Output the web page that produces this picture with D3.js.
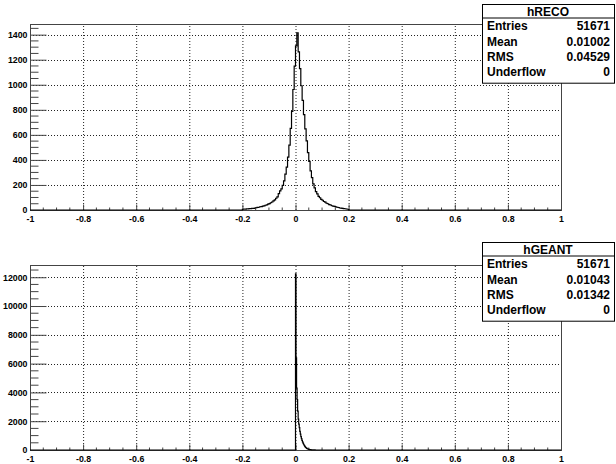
<!DOCTYPE html>
<html><head><meta charset="utf-8">
<script src="https://cdn.jsdelivr.net/npm/d3@7"></script>
<style>body{margin:0;background:#fff}svg{display:block}</style>
</head><body>
<script>
// ---- data ----
const xTickValues = [-1,-0.8,-0.6,-0.4,-0.2,0,0.2,0.4,0.6,0.8,1];
const xTickLabels = ["-1","-0.8","-0.6","-0.4","-0.2","0","0.2","0.4","0.6","0.8","1"];
const recoYTicks = [0,200,400,600,800,1000,1200,1400];
const geantYTicks = [0,2000,4000,6000,8000,10000,12000];

const recoStart = -0.2, recoWidth = 0.005;
const recoCounts = [
  6, 8, 7, 10, 9, 12, 11, 14, 13, 16,
  18, 21, 22, 26, 27, 31, 33, 38, 41, 47,
  51, 58, 64, 73, 81, 94, 105, 130, 152, 168,
  197, 232, 287, 342, 422, 518, 652, 788, 962, 1148,
  1310, 1415, 1262, 1128, 992, 876, 762, 648, 552, 458,
  388, 312, 258, 208, 176, 146, 128, 108, 98, 85,
  78, 68, 63, 54, 50, 43, 40, 34, 31, 29,
  25, 22, 20, 16, 15, 13, 11, 10, 8, 6
];
const geantStart = 0, geantWidth = 0.002;
const geantCounts = [
  12235, 6400, 4300, 3500, 2700, 2150, 1800, 1550, 1300, 1100,
  930, 790, 670, 570, 480, 400, 330, 270, 220, 175,
  140, 110, 88, 70, 55, 43, 34, 27, 21, 16,
  12, 9, 7, 5, 4, 3, 2, 1
];
const recoStatsTitle = "hRECO";
const recoStats = [["Entries","51671"],["Mean","0.01002"],["RMS","0.04529"],["Underflow","0"]];
const geantStatsTitle = "hGEANT";
const geantStats = [["Entries","51671"],["Mean","0.01043"],["RMS","0.01342"],["Underflow","0"]];

// ---- drawing ----
const W = 616, H = 464;
const svg = d3.select("body").append("svg").attr("width", W).attr("height", H);
svg.append("rect").attr("width", W).attr("height", H).attr("fill", "#fff");

const FONT = "'Liberation Sans', Arial, Helvetica, sans-serif";

function panel(opts) {
  const {top, bottom, yMax, yTicks, yMinorStep, start, width, counts, title, stats, boxTop} = opts;
  const left = 30, right = 561;
  const x = d3.scaleLinear().domain([-1, 1]).range([left, right]);
  const y = d3.scaleLinear().domain([0, yMax]).range([bottom, top]);
  const g = svg.append("g");

  // grid
  const grid = g.append("g").attr("stroke", "#222").attr("stroke-width", 1)
    .attr("stroke-dasharray", "1,2");
  xTickValues.filter(v => v > -1 && v < 1).forEach(v => {
    grid.append("line").attr("x1", x(v) + 0.5).attr("x2", x(v) + 0.5).attr("y1", bottom).attr("y2", top);
  });
  yTicks.filter(v => v > 0).forEach(v => {
    grid.append("line").attr("x1", left).attr("x2", right).attr("y1", Math.round(y(v)) + 0.5).attr("y2", Math.round(y(v)) + 0.5);
  });

  // frame
  g.append("rect").attr("x", left + 0.5).attr("y", top + 0.5).attr("width", right - left).attr("height", bottom - top)
    .attr("fill", "none").attr("stroke", "#444").attr("stroke-width", 1);

  // x axis ticks (inside, upward)
  const xAxis = d3.axisBottom(x).tickValues(xTickValues).tickSize(-6)
    .tickFormat((d, i) => xTickLabels[i]).tickPadding(3);
  const xa = g.append("g").attr("transform", `translate(0,${bottom + 0.5})`).call(xAxis);
  const xMinor = d3.range(-1, 1.0001, 0.05).filter(v => Math.abs(Math.round(v * 5) - v * 5) > 1e-6);
  xMinor.forEach(v => {
    xa.append("line").attr("x1", x(v)).attr("x2", x(v)).attr("y1", 0).attr("y2", -3).attr("stroke", "#444");
  });

  // y axis ticks (inside, rightward)
  const yAxis = d3.axisLeft(y).tickValues(yTicks).tickSize(-16).tickFormat(d3.format("d")).tickPadding(3);
  const ya = g.append("g").attr("transform", `translate(${left + 0.5},0)`).call(yAxis);
  const yMinor = d3.range(0, yMax, yMinorStep).filter(v => !yTicks.includes(v));
  yMinor.forEach(v => {
    ya.append("line").attr("x1", 0).attr("x2", 8).attr("y1", y(v)).attr("y2", y(v)).attr("stroke", "#444");
  });

  [xa, ya].forEach(a => {
    a.select(".domain").remove();
    a.selectAll(".tick line").attr("stroke", "#444");
    a.selectAll("text").attr("font-family", FONT).attr("font-weight", "bold")
      .attr("font-size", "8.8px").attr("fill", "#000");
  });
  xa.selectAll(".tick text").attr("dy", "0.95em");

  // histogram step line
  const pts = [[x(-1), y(0)]];
  pts.push([x(start), y(0)]);
  counts.forEach((c, i) => {
    const lo = start + i * width, hi = lo + width;
    pts.push([x(lo), y(c)]);
    pts.push([x(hi), y(c)]);
  });
  const last = start + counts.length * width;
  pts.push([x(last), y(0)]);
  pts.push([x(1), y(0)]);
  g.append("path").attr("d", d3.line()(pts)).attr("fill", "none")
    .attr("stroke", "#000").attr("stroke-width", 1.2);

  // stats box
  const bx = 482, bw = 132, bTop = boxTop, hdr = 13.5, rowH = 15.3;
  const bh = hdr + rowH * stats.length + 4;
  const sb = svg.append("g");
  sb.append("rect").attr("x", bx + 0.5).attr("y", bTop + 0.5).attr("width", bw).attr("height", bh)
    .attr("fill", "#fff").attr("stroke", "#000").attr("stroke-width", 1);
  sb.append("line").attr("x1", bx).attr("x2", bx + bw).attr("y1", bTop + hdr + 0.5).attr("y2", bTop + hdr + 0.5)
    .attr("stroke", "#000");
  sb.append("text").attr("x", bx + bw / 2).attr("y", bTop + hdr / 2 + 0.5).attr("dy", "0.36em")
    .attr("text-anchor", "middle").attr("font-family", FONT).attr("font-weight", "bold")
    .attr("font-size", "12px").text(title);
  stats.forEach((r, i) => {
    const cy = bTop + hdr + rowH * (i + 0.5) + 1;
    sb.append("text").attr("x", bx + 5).attr("y", cy).attr("dy", "0.36em")
      .attr("font-family", FONT).attr("font-weight", "bold").attr("font-size", "12px").text(r[0]);
    sb.append("text").attr("x", bx + bw - 4).attr("y", cy).attr("dy", "0.36em").attr("text-anchor", "end")
      .attr("font-family", FONT).attr("font-weight", "bold").attr("font-size", "12px").text(r[1]);
  });
}

panel({top: 24, bottom: 210, yMax: 1485, yTicks: recoYTicks, yMinorStep: 50,
  start: recoStart, width: recoWidth, counts: recoCounts, title: recoStatsTitle, stats: recoStats, boxTop: 4});
panel({top: 265, bottom: 450, yMax: 12850, yTicks: geantYTicks, yMinorStep: 500,
  start: geantStart, width: geantWidth, counts: geantCounts, title: geantStatsTitle, stats: geantStats, boxTop: 242});
</script>
</body></html>
